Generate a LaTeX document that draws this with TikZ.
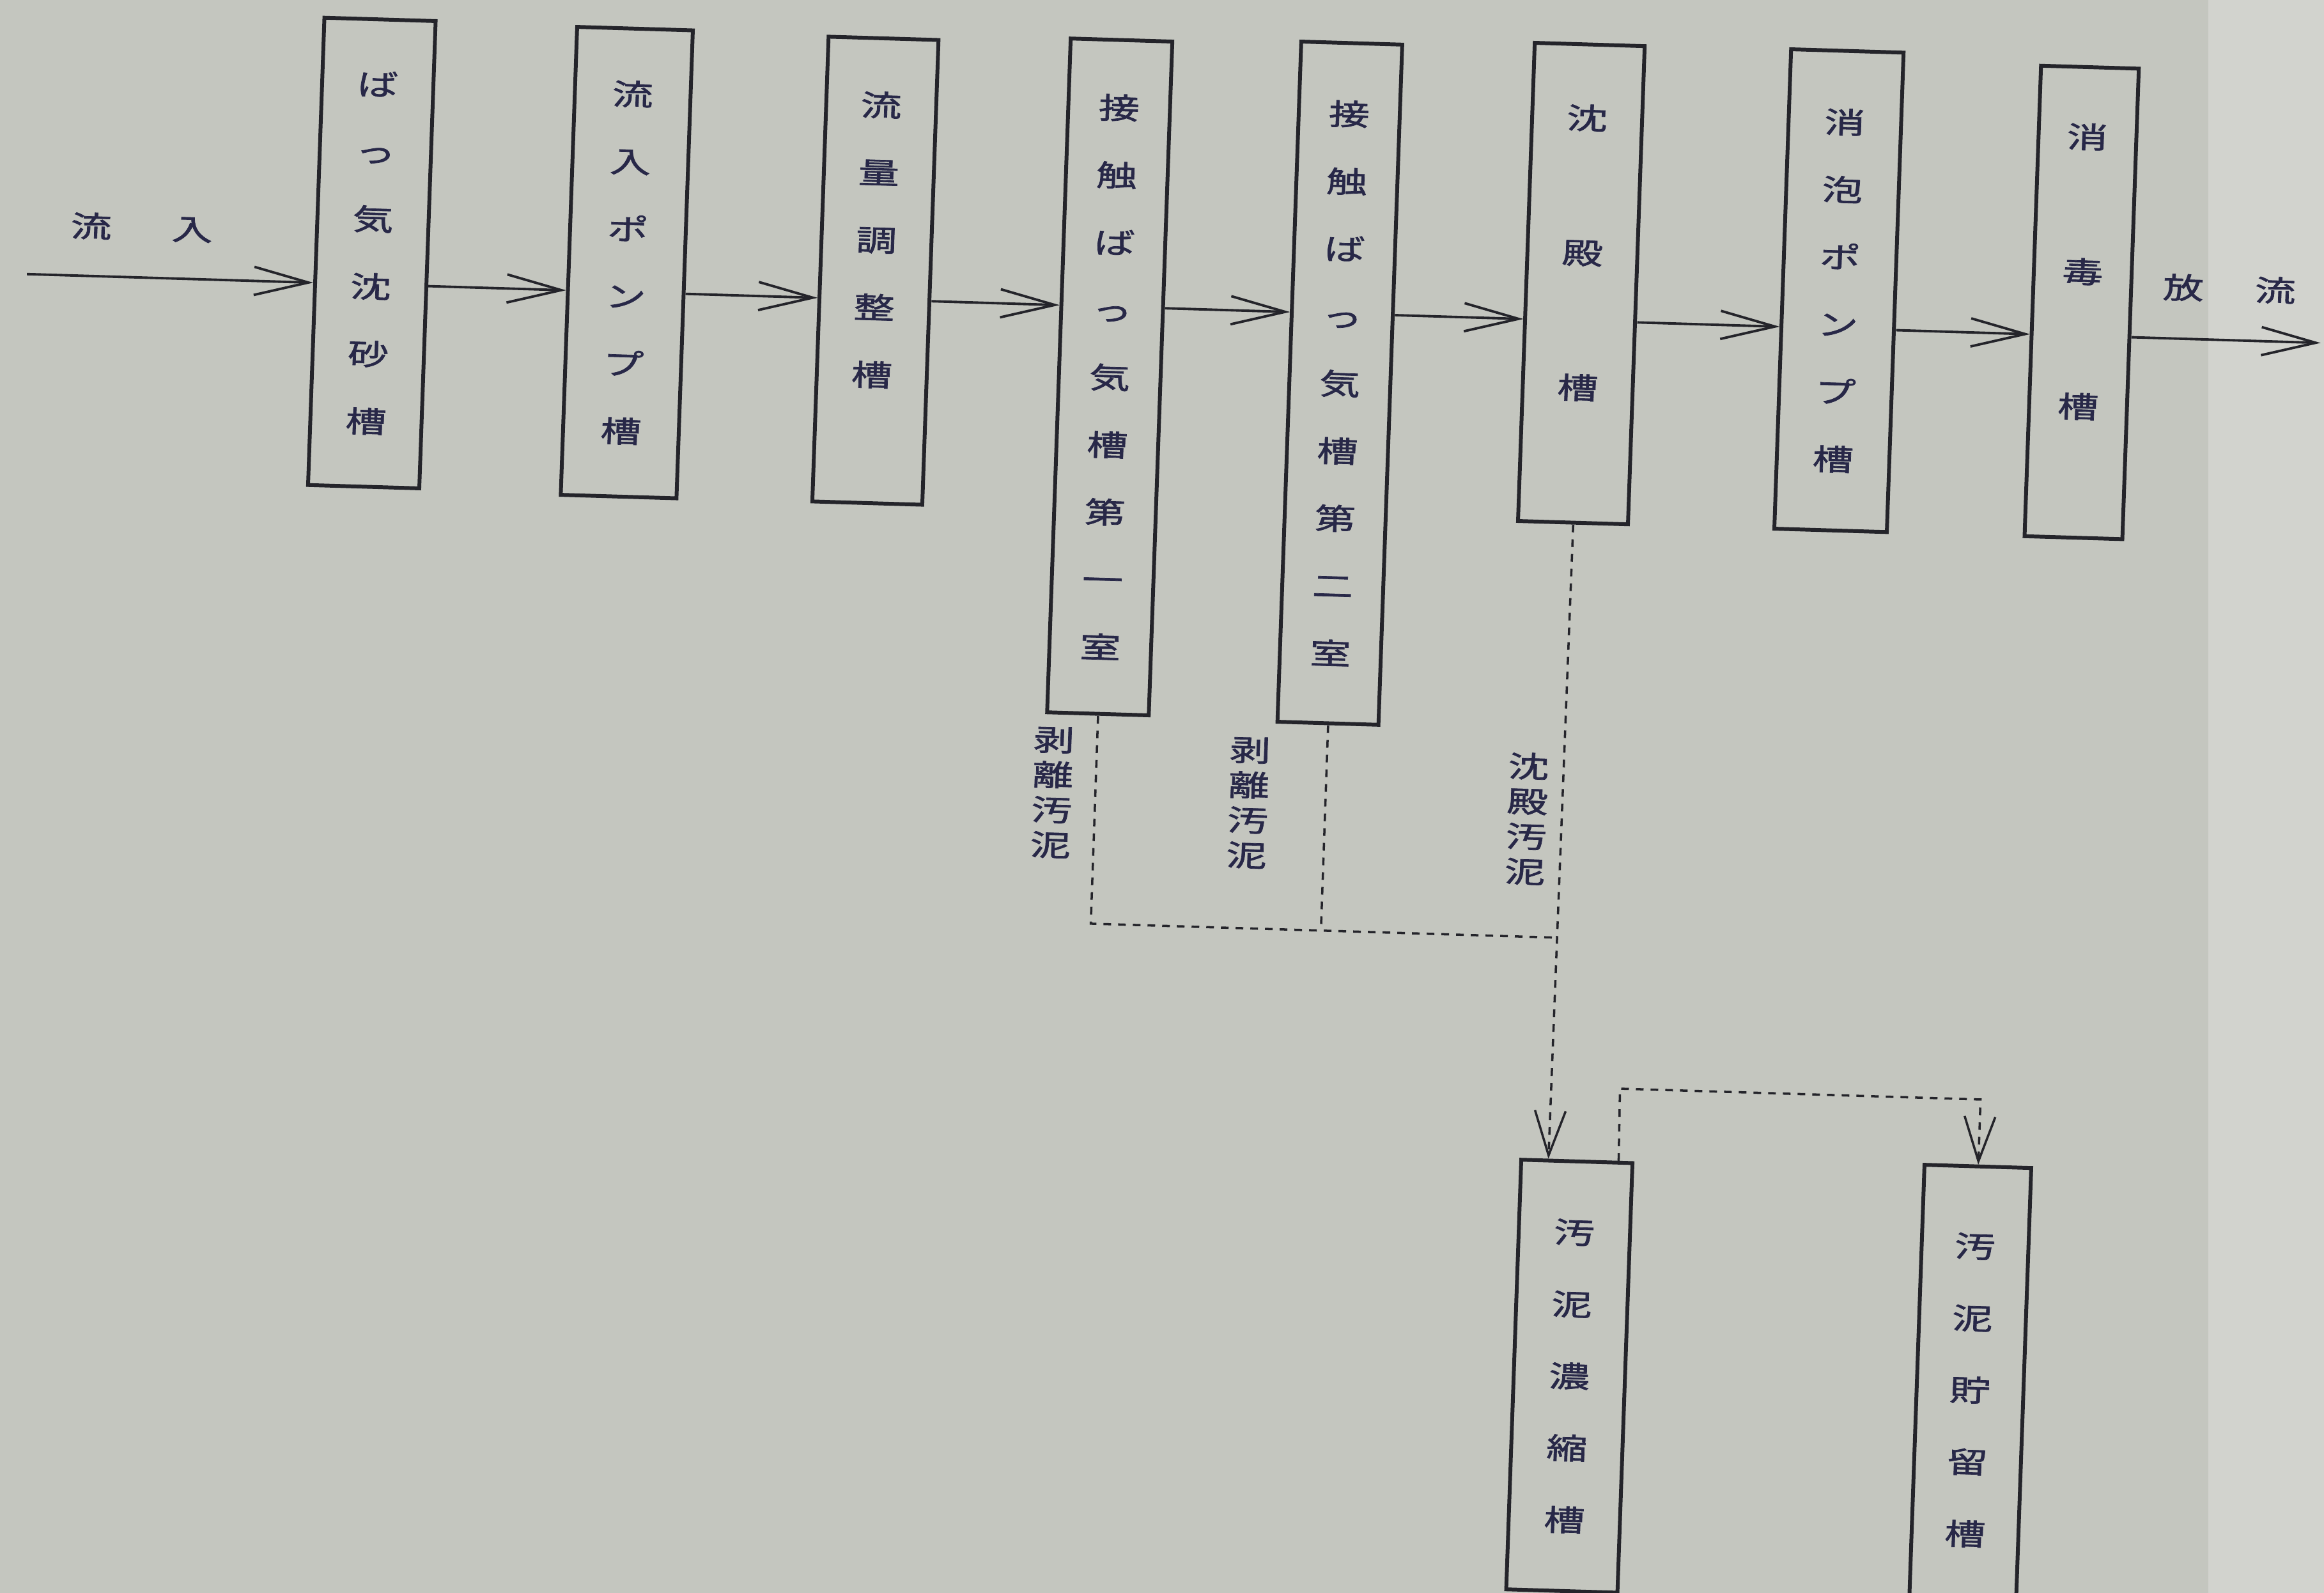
\documentclass[tikz,border=0pt]{standalone}
\usepackage{fontspec}
\newfontfamily\jpfont[FakeStretch=1.4, FakeBold=1.6]{Noto Sans CJK JP}
\usetikzlibrary{arrows.meta,calc}
\definecolor{paper}{RGB}{196,198,191}
\definecolor{paperlight}{RGB}{210,211,206}
\definecolor{ink}{RGB}{36,36,42}
\definecolor{printink}{RGB}{40,40,72}

\begin{document}
\begin{tikzpicture}[
  tank/.style={draw=ink, line width=1.7pt, inner sep=0pt, align=center, text=printink, font=\jpfont\fontsize{13pt}{30pt}\selectfont},
  wide/.style={font=\jpfont\fontsize{13pt}{60pt}\selectfont},
  lowtank/.style={font=\jpfont\fontsize{13pt}{32pt}\selectfont},
  raised/.style={text depth=1.0cm},
  flow/.style={draw=ink, line width=1.1pt, -{Straight Barb[length=8.5mm,width=4.4mm]}},
  sludge/.style={draw=ink, line width=1pt, dash pattern=on 1.2mm off 1.1mm},
  sludgearrow/.style={sludge, -{Straight Barb[length=7mm,width=4.8mm]}},
  lbl/.style={text=printink, inner sep=0pt, align=center, font=\jpfont\fontsize{13pt}{15.6pt}\selectfont}
]

% paper
\path[use as bounding box, fill=paper] (0,0) rectangle (36.36,-24.92);
\fill[paperlight] (34.55,0) rectangle (36.36,-24.92);

% the scanned sheet is slightly skewed
\begin{scope}[cm={1,-0.03,0.035,1,(0,0)}, transform shape]

% main line
\node[tank, minimum width=1.74cm, minimum height=7.31cm] (b1) at (5.95,-3.78) {ば\\っ\\気\\沈\\砂\\槽};
\node[tank, minimum width=1.81cm, minimum height=7.32cm] (b2) at (9.94,-3.81) {流\\入\\ポ\\ン\\プ\\槽};
\node[tank, raised, minimum width=1.72cm, minimum height=7.27cm] (b3) at (13.83,-3.82) {流\\量\\調\\整\\槽};
\node[tank, minimum width=1.59cm, minimum height=10.54cm] (b4) at (17.55,-5.37) {接\\触\\ば\\っ\\気\\槽\\第\\一\\室};
\node[tank, minimum width=1.58cm, minimum height=10.64cm] (b5) at (21.15,-5.36) {接\\触\\ば\\っ\\気\\槽\\第\\二\\室};
\node[tank, wide, raised, minimum width=1.72cm, minimum height=7.48cm] (b6) at (24.87,-3.69) {沈\\殿\\槽};
\node[tank, minimum width=1.76cm, minimum height=7.50cm] (b7) at (28.90,-3.68) {消\\泡\\ポ\\ン\\プ\\槽};
\node[tank, wide, raised, minimum width=1.53cm, minimum height=7.36cm] (b8) at (32.70,-3.75) {消\\毒\\槽};

% sludge line
\node[tank, lowtank, minimum width=1.74cm, minimum height=6.72cm] (b9) at (25.28,-20.77) {汚\\泥\\濃\\縮\\槽};
\node[tank, lowtank, minimum width=1.67cm, minimum height=7.00cm] (b10) at (31.55,-20.80) {汚\\泥\\貯\\留\\槽};

\node[lbl] (lblin) at (2.34,-3.49) {流\hspace{0.94cm}入};
\node[lbl] (lblout) at (35.00,-3.47) {放\hspace{0.80cm}流};
\node[lbl] (peel1) at (16.88,-11.89) {剥\\離\\汚\\泥};
\node[lbl] (peel2) at (19.95,-11.96) {剥\\離\\汚\\泥};
\node[lbl] (settled) at (24.31,-12.08) {沈\\殿\\汚\\泥};

\coordinate (inflow) at (0.57,-4.27);
\coordinate (outflow) at (36.45,-4.27);
\coordinate (j1) at (17.55,-13.92);
\coordinate (j2) at (21.15,-13.92);
\coordinate (j3) at (24.86,-13.92);
\coordinate (k1) at (25.91,-16.25);
\coordinate (k2) at (31.55,-16.25);

\draw[flow] (inflow) -- ($(b1.west)+(0,-0.49)$);
\draw[flow] ($(b1.east)+(0,-0.49)$) -- ($(b2.west)+(0,-0.46)$);
\draw[flow] ($(b2.east)+(0,-0.46)$) -- ($(b3.west)+(0,-0.45)$);
\draw[flow] ($(b3.east)+(0,-0.45)$) -- ($(b4.west)+(0,1.10)$);
\draw[flow] ($(b4.east)+(0,1.10)$) -- ($(b5.west)+(0,1.09)$);
\draw[flow] ($(b5.east)+(0,1.09)$) -- ($(b6.west)+(0,-0.58)$);
\draw[flow] ($(b6.east)+(0,-0.58)$) -- ($(b7.west)+(0,-0.59)$);
\draw[flow] ($(b7.east)+(0,-0.59)$) -- ($(b8.west)+(0,-0.52)$);
\draw[flow] ($(b8.east)+(0,-0.52)$) -- (outflow);

\draw[sludge] (b4.south) -- (j1) -- (j3);
\draw[sludge] (b5.south) -- (j2);
\draw[sludgearrow] (b6.south) -- ($(b9.north west)!0.25!(b9.north east)$);
\draw[sludgearrow] ($(b9.north west)!0.86!(b9.north east)$) -- (k1) -- (k2) -- (b10.north);

\end{scope}
\end{tikzpicture}
\end{document}
